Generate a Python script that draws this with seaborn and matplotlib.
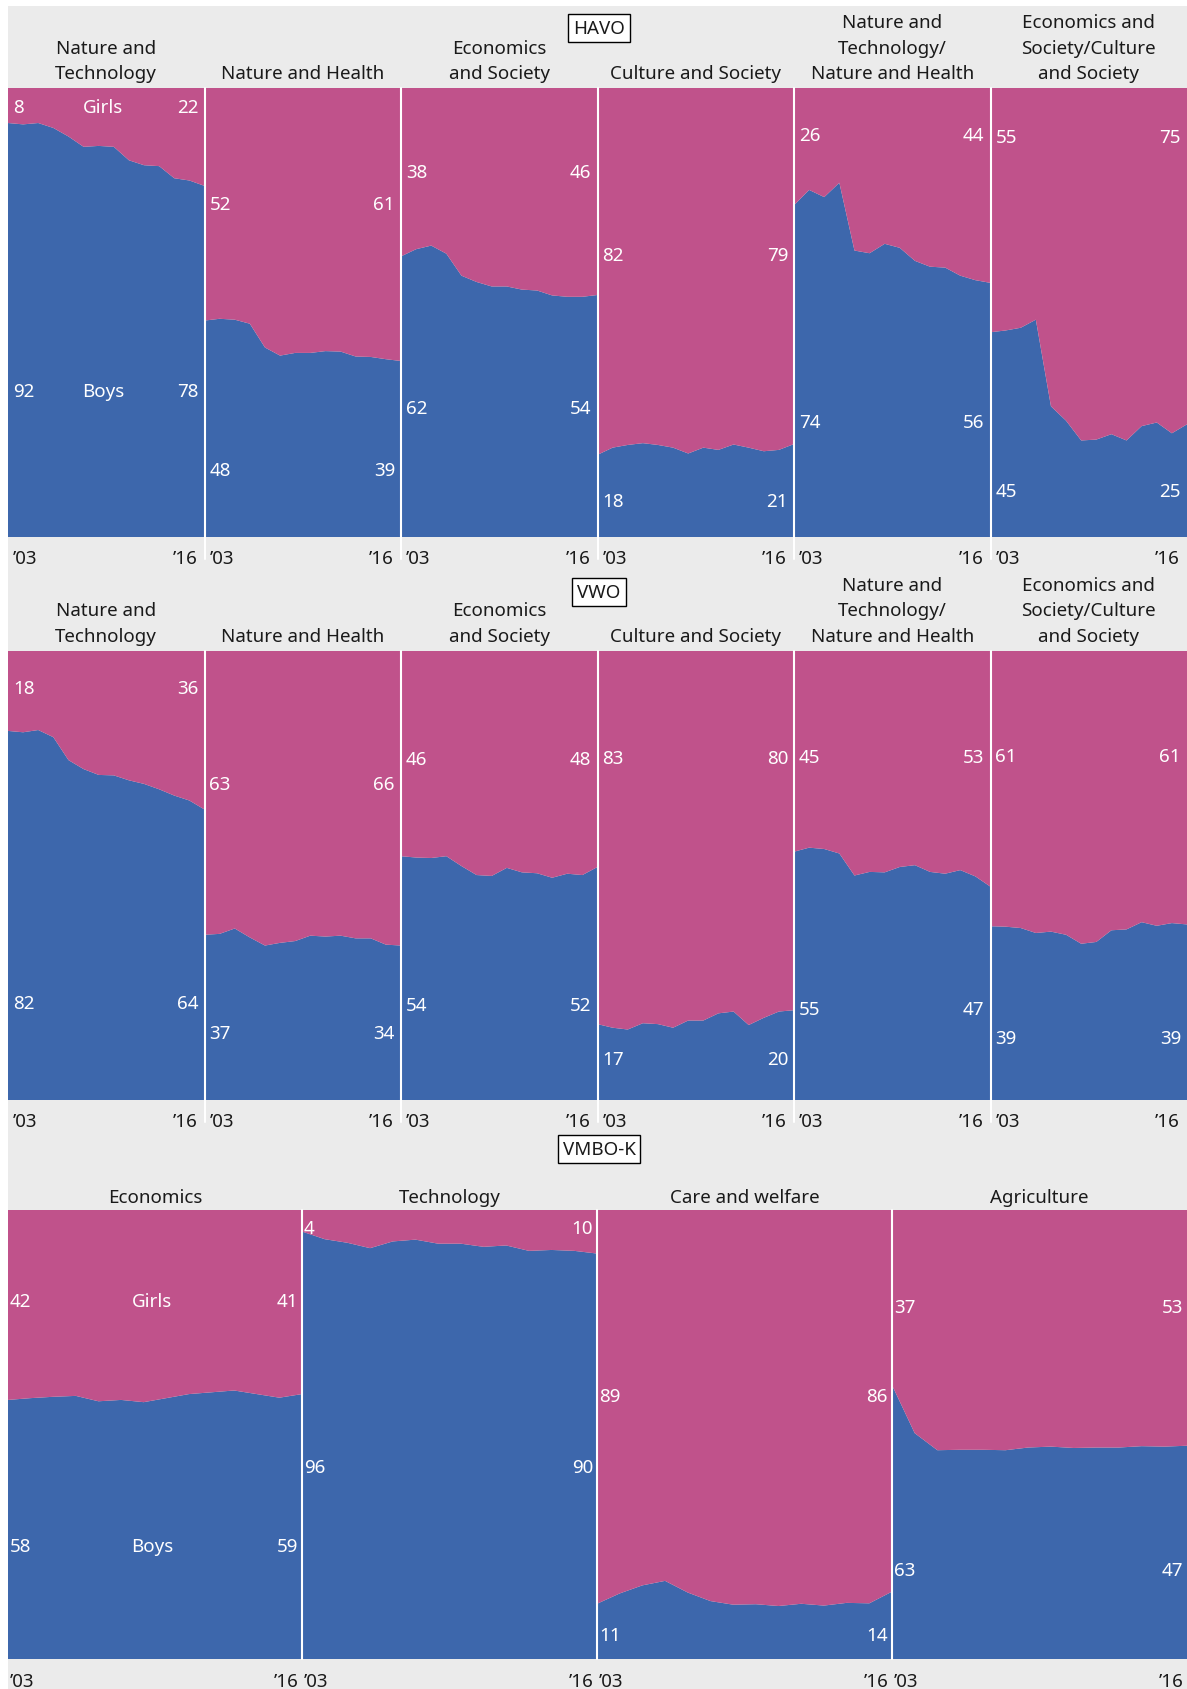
import numpy as np
import pandas as pd
import matplotlib
matplotlib.use("Agg")
import matplotlib.pyplot as plt
from matplotlib.lines import Line2D
from matplotlib.patches import Rectangle
import seaborn as sns
import seaborn.objects as so

# ---------------- data ----------------
years = list(range(2003, 2017))
tick_labels = ["\u201903", "\u201916"]

havo_titles = ["Nature and\nTechnology", "Nature and Health", "Economics\nand Society",
               "Culture and Society", "Nature and\nTechnology/\nNature and Health",
               "Economics and\nSociety/Culture\nand Society"]
vwo_titles = havo_titles
vmbo_titles = ["Economics", "Technology", "Care and welfare", "Agriculture"]

# share of boys (%) per year; girls make up the rest to 100
havo_nt = [92.2, 91.9, 92.2, 91.1, 89.2, 86.9, 87.1, 86.9, 83.9, 82.8, 82.6, 79.9, 79.4, 78.2]
havo_nh = [48.2, 48.6, 48.4, 47.5, 42.2, 40.4, 41.0, 41.0, 41.4, 41.3, 40.2, 40.1, 39.6, 39.2]
havo_es = [62.5, 64.1, 64.9, 63.1, 58.2, 56.8, 55.8, 55.8, 55.1, 54.9, 53.8, 53.5, 53.5, 53.9]
havo_cs = [18.3, 19.9, 20.5, 20.9, 20.5, 19.9, 18.6, 19.9, 19.4, 20.6, 19.9, 19.1, 19.4, 20.7]
havo_ntnh = [73.9, 77.3, 75.7, 78.9, 63.8, 63.2, 65.3, 64.4, 61.5, 60.2, 60.0, 58.2, 57.2, 56.6]
havo_escs = [45.6, 46.0, 46.6, 48.4, 29.1, 25.9, 21.5, 21.7, 22.9, 21.5, 24.7, 25.5, 23.1, 25.1]

vwo_nt = [82.2, 81.9, 82.4, 80.8, 75.7, 73.7, 72.4, 72.3, 71.2, 70.4, 69.2, 67.8, 66.7, 64.7]
vwo_nh = [36.8, 37.0, 38.2, 36.2, 34.4, 35.0, 35.4, 36.6, 36.4, 36.6, 36.0, 36.0, 34.6, 34.4]
vwo_es = [54.3, 54.0, 53.9, 54.3, 52.1, 50.1, 49.9, 51.7, 50.7, 50.5, 49.5, 50.4, 50.1, 51.9]
vwo_cs = [16.9, 16.1, 15.7, 17.1, 16.9, 16.1, 17.7, 17.7, 19.3, 19.7, 16.7, 18.3, 19.7, 20.0]
vwo_ntnh = [55.3, 56.2, 55.9, 54.9, 50.0, 50.8, 50.7, 51.9, 52.3, 50.8, 50.4, 51.2, 49.8, 47.5]
vwo_escs = [38.7, 38.6, 38.3, 37.2, 37.5, 36.8, 34.8, 35.2, 37.8, 38.0, 39.6, 38.8, 39.4, 39.1]

vmbo_econ = [57.7, 58.1, 58.4, 58.6, 57.4, 57.7, 57.2, 58.1, 59.0, 59.4, 59.8, 59.0, 58.2, 59.0]
vmbo_tech = [95.2, 93.5, 92.7, 91.5, 93.0, 93.4, 92.5, 92.5, 91.8, 92.1, 90.9, 91.1, 90.9, 90.3]
vmbo_care = [12.3, 14.6, 16.4, 17.4, 14.8, 12.9, 12.1, 12.2, 11.8, 12.3, 11.9, 12.5, 12.4, 15.0]
vmbo_agri = [61.0, 50.3, 46.5, 46.6, 46.6, 46.5, 47.1, 47.3, 47.0, 47.1, 47.1, 47.4, 47.3, 47.5]

# printed labels: (girls start, girls end, boys start, boys end)
havo_labels = [(8, 22, 92, 78), (52, 61, 48, 39), (38, 46, 62, 54),
               (82, 79, 18, 21), (26, 44, 74, 56), (55, 75, 45, 25)]
vwo_labels = [(18, 36, 82, 64), (63, 66, 37, 34), (46, 48, 54, 52),
              (83, 80, 17, 20), (45, 53, 55, 47), (61, 61, 39, 39)]
vmbo_labels = [(42, 41, 58, 59), (4, 10, 96, 90), (89, 86, 11, 14), (37, 53, 63, 47)]

# ---------------- layout (pixels, separate from data) ----------------
havo_label_y = ([96.3, 74.7, 81.7, 63.3, 90.0, 89.5], [32.9, 15.4, 29.1, 8.4, 26.1, 10.8])
vwo_label_y = ([92.1, 70.8, 76.4, 76.6, 76.9, 77.1], [22.0, 15.4, 21.5, 9.5, 20.7, 14.3])
vmbo_label_y = ([80.2, 96.4, 59.0, 78.8], [25.6, 43.2, 5.8, 20.2])

BLUE = "#3D67AC"
PINK = "#C0528B"
BG = "#EBEBEB"
INK = "#1A1A1A"

W, H = 1187, 1690
sns.set_style("white")
plt.rcParams["font.family"] = ["Noto Sans", "DejaVu Sans"]
FS = 13.5

fig = plt.figure(figsize=(W / 100, H / 100), dpi=100)
fig.patch.set_facecolor("white")


def fx(x):
    return x / W


def fy(y):
    return 1 - y / H


fig.add_artist(Rectangle((fx(8), 0), 1 - fx(8), fy(7), transform=fig.transFigure,
                         fc=BG, ec="none", zorder=-10))


def add_panel(left, right, top, bottom, boys):
    ax = fig.add_axes([fx(left), fy(bottom), fx(right) - fx(left), fy(top) - fy(bottom)])
    df = pd.DataFrame({"year": years, "base": 0.0, "boys": boys, "full": 100.0})
    (
        so.Plot(df, x="year")
        .add(so.Band(color=BLUE, alpha=1, edgewidth=0), ymin="base", ymax="boys")
        .add(so.Band(color=PINK, alpha=1, edgewidth=0), ymin="boys", ymax="full")
        .limit(x=(2003, 2016), y=(0, 100))
        .on(ax)
        .plot()
    )
    ax.set_xlim(2003, 2016)
    ax.set_ylim(0, 100)
    ax.set_axis_off()
    return ax


def draw_row(edges, top, bottom, titles, series, labels, label_y, box_text, box_y,
             title_gap, sep_extra, tick_base, pad_l, pad_r, tick_pad_l, tick_pad_r,
             first_legend):
    n = len(series)
    for i in range(n):
        left, right = edges[i], edges[i + 1]
        add_panel(left, right, top, bottom, series[i])
        cx = (left + right) / 2
        # title lines
        lines = titles[i].split("\n")
        for k, line in enumerate(reversed(lines)):
            fig.text(fx(cx), fy(top - title_gap - k * 25.5), line, ha="center",
                     va="baseline", fontsize=FS, color=INK)
        # value labels
        gs, ge, bs, be = labels[i]
        ygp = bottom - label_y[0][i] / 100 * (bottom - top)
        ybp = bottom - label_y[1][i] / 100 * (bottom - top)
        fig.text(fx(left + pad_l), fy(ygp), str(gs), ha="left", va="center_baseline",
                 fontsize=FS, color="white")
        fig.text(fx(right - pad_r), fy(ygp), str(ge), ha="right", va="center_baseline",
                 fontsize=FS, color="white")
        fig.text(fx(left + pad_l), fy(ybp), str(bs), ha="left", va="center_baseline",
                 fontsize=FS, color="white")
        fig.text(fx(right - pad_r), fy(ybp), str(be), ha="right", va="center_baseline",
                 fontsize=FS, color="white")
        if i == 0 and first_legend:
            fig.text(fx(cx - 3), fy(ygp), "Girls", ha="center", va="center_baseline",
                     fontsize=FS, color="white")
            fig.text(fx(cx - 3), fy(ybp), "Boys", ha="center", va="center_baseline",
                     fontsize=FS, color="white")
        # year ticks
        fig.text(fx(left + tick_pad_l), fy(tick_base), tick_labels[0], ha="left",
                 va="baseline", fontsize=FS, color=INK)
        fig.text(fx(right - tick_pad_r), fy(tick_base), tick_labels[1], ha="right",
                 va="baseline", fontsize=FS, color=INK)
    # separators
    for e in edges[1:-1]:
        fig.add_artist(Line2D([fx(e), fx(e)], [fy(top), fy(bottom + sep_extra)],
                              transform=fig.transFigure, color="white", lw=1.5,
                              zorder=10))
    fig.text(fx(599), fy(box_y), box_text, ha="center", va="center", fontsize=FS,
             color=INK, zorder=12,
             bbox=dict(boxstyle="square,pad=0.26", fc="white", ec="black", lw=1.0))


edges6 = [8, 204.5, 401, 597.5, 794, 990.5, 1187]
edges4 = [8, 302, 597, 892, 1187]

draw_row(edges6, 89, 538, havo_titles,
         [havo_nt, havo_nh, havo_es, havo_cs, havo_ntnh, havo_escs],
         havo_labels, havo_label_y, "HAVO", 29, 10, 22, 564, 5, 6, 5, 7, True)
draw_row(edges6, 652, 1101, vwo_titles,
         [vwo_nt, vwo_nh, vwo_es, vwo_cs, vwo_ntnh, vwo_escs],
         vwo_labels, vwo_label_y, "VWO", 593, 10, 22, 1127, 5, 6, 5, 7, False)
draw_row(edges4, 1211, 1660, vmbo_titles,
         [vmbo_econ, vmbo_tech, vmbo_care, vmbo_agri],
         vmbo_labels, vmbo_label_y, "VMBO-K", 1150, 8, 0, 1687, 2, 4, 2, 3, True)

fig.savefig("out.png", dpi=100, facecolor="white")
